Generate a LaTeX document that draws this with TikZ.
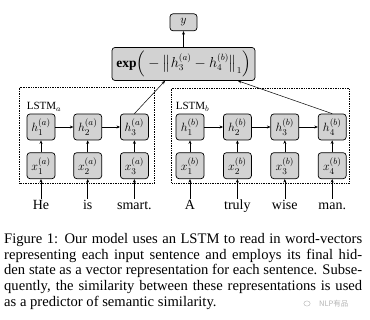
\documentclass[tikz,border=0pt]{standalone}
\usepackage{fontspec}
\setmainfont{Liberation Serif}
\newfontfamily\cjkfont{Noto Sans CJK SC}
\usepackage{amsmath}
\usetikzlibrary{arrows.meta, positioning, calc}
\definecolor{CellFill}{HTML}{D2D2D2}
\definecolor{MarkGray}{HTML}{B4B4B4}
\tikzset{
  cell/.style={
    rectangle, rounded corners=3pt, draw, line width=0.7pt,
    fill=CellFill, minimum width=28pt, minimum height=26pt,
    inner sep=1pt, font=\fontsize{13}{14}\selectfont
  },
  word/.style={font=\fontsize{14}{16}\selectfont, inner sep=0pt,
    text height=9pt, text depth=3pt},
  lbl/.style={font=\fontsize{11}{12}\selectfont, inner sep=0pt},
  container/.style={densely dotted, line width=0.7pt},
  arrow/.style={-{Stealth[length=3.5pt, width=3pt]}, line width=0.5pt},
}
\begin{document}
\begin{tikzpicture}[x=1pt, y=-1pt, node distance=18pt]
  \useasboundingbox (0,0) rectangle (370,320);

  % output
  \node[cell, minimum width=143pt, minimum height=33pt,
        font=\fontsize{13.5}{15}\selectfont] (dist) at (183.5,64)
    {$\mathbf{exp}\Big(-\big\|h_3^{(a)}-h_4^{(b)}\big\|_1\Big)$};
  \node[cell, minimum width=27pt, minimum height=17pt, above=16pt of dist] (yout) {$y$};
  \coordinate (inA) at ($(dist.south)+(-18.5,0)$);
  \coordinate (inB) at ($(dist.south)+(54.5,0)$);

  % sentence a
  \node[cell] (h1a) at (41,127) {$h_1^{(a)}$};
  \node[cell, right=of h1a] (h2a) {$h_2^{(a)}$};
  \node[cell, right=of h2a] (h3a) {$h_3^{(a)}$};
  \node[cell, below=12pt of h1a] (x1a) {$x_1^{(a)}$};
  \node[cell, below=12pt of h2a] (x2a) {$x_2^{(a)}$};
  \node[cell, below=12pt of h3a] (x3a) {$x_3^{(a)}$};
  \node[word, below=21.5pt of x1a] (wHe) {He};
  \node[word, below=21.5pt of x2a] (wIs) {is};
  \node[word, below=21.5pt of x3a] (wSmart) {smart.};

  % sentence b
  \node[cell] (h1b) at (190,127) {$h_1^{(b)}$};
  \node[cell, right=18.7pt of h1b] (h2b) {$h_2^{(b)}$};
  \node[cell, right=18.7pt of h2b] (h3b) {$h_3^{(b)}$};
  \node[cell, right=18.7pt of h3b] (h4b) {$h_4^{(b)}$};
  \node[cell, below=12pt of h1b] (x1b) {$x_1^{(b)}$};
  \node[cell, below=12pt of h2b] (x2b) {$x_2^{(b)}$};
  \node[cell, below=12pt of h3b] (x3b) {$x_3^{(b)}$};
  \node[cell, below=12pt of h4b] (x4b) {$x_4^{(b)}$};
  \node[word, below=21.5pt of x1b] (wA) {A};
  \node[word, below=21.5pt of x2b] (wTruly) {truly};
  \node[word, below=21.5pt of x3b] (wWise) {wise};
  \node[word, below=21.5pt of x4b] (wMan) {man.};

  % LSTM boxes
  \draw[container] ($(h1a.north west)+(-7,-26)$) rectangle ($(x3a.south east)+(6,4)$);
  \draw[container] ($(h1b.north west)+(-4,-25)$) rectangle ($(x4b.south east)+(3,4)$);
  \node[lbl, anchor=base west] (lstmA) at ($(h1a.north west)+(0,-4)$) {LSTM$_a$};
  \node[lbl, anchor=base west] (lstmB) at ($(h1b.north west)+(0,-4)$) {LSTM$_b$};

  % connectors
  \draw[arrow] (dist) -- (yout);
  \draw[arrow] (h3a.north) -- (inA);
  \draw[arrow] (h4b.north) -- (inB);
  \foreach \i/\j in {1a/2a, 2a/3a, 1b/2b, 2b/3b, 3b/4b}
    \draw[arrow] (h\i) -- (h\j);
  \foreach \i in {1a, 2a, 3a, 1b, 2b, 3b, 4b}
    \draw[arrow] (x\i) -- (h\i);
  \foreach \w/\i in {wHe/1a, wIs/2a, wSmart/3a, wA/1b, wTruly/2b, wWise/3b, wMan/4b}
    \draw[arrow, shorten <=2pt] (\w.north) -- (x\i.south);

  % caption
  \node[anchor=north west, text width=358pt, align=justify, inner sep=0pt,
        font=\fontsize{14.6}{15.8}\selectfont] (caption) at (4,233)
    {Figure 1: Our model uses an LSTM to read in word-vectors\linebreak
     representing each input sentence and employs its final hid-\linebreak
     den state as a vector representation for each sentence. Subse-\linebreak
     quently, the similarity between these representations is used\linebreak
     as a predictor of semantic similarity.};

  % watermark
  \node[inner sep=0pt, text=MarkGray, font=\cjkfont\fontsize{7.5}{8}\selectfont,
        anchor=west] (mark) at (319,304) {NLP有品};
  \draw[MarkGray, line width=0.4pt] (307,303.5) ellipse (3.2pt and 2.6pt);
\end{tikzpicture}
\end{document}
